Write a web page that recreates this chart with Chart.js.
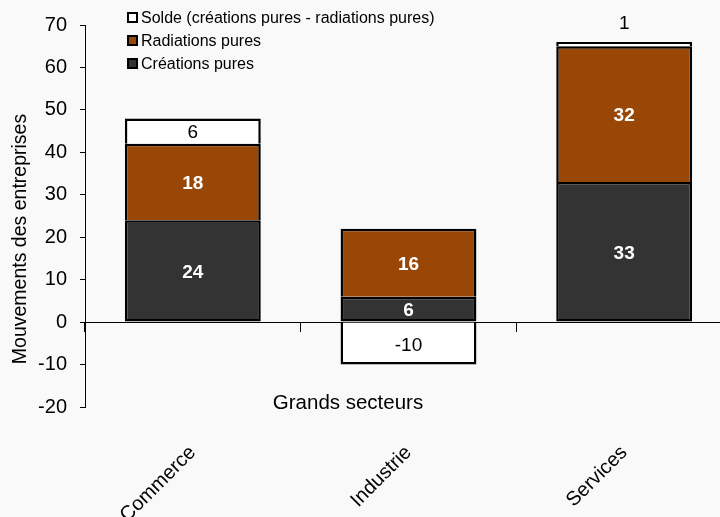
<!DOCTYPE html>
<html>
<head>
<meta charset="utf-8">
<script src="https://cdn.jsdelivr.net/npm/chart.js@4"></script>
<style>
    html, body { margin:0; padding:0; background:#f9f9f9; overflow:hidden; }
    #wrap { position:relative; width:720px; height:517px; overflow:hidden; }
    #chart { position:absolute; left:0; top:0; }
    .legend { position:absolute; left:127px; top:6px; font-family:Arial, "Liberation Sans", sans-serif; font-size:16px; color:#000; }
    .legend-row { display:flex; align-items:center; height:23px; }
    .legend-box { width:7px; height:7px; border:2px solid #000; margin-right:3px; }
</style>
</head>
<body>
<div id="wrap">
    <canvas id="chart" width="732" height="517"></canvas>
    <div class="legend" id="legend"></div>
</div>
<script>
// ── DATA ──
const sectors = ['Commerce', 'Industrie', 'Services'];
const creations = [24, 6, 33];
const radiations = [18, 16, 32];
const solde = [6, -10, 1];
const yTicks = { min: -20, max: 70, step: 10 };

const FONT = 'Arial, "Liberation Sans", sans-serif';
const colCreations = '#333333';
const colRadiations = '#994706';
const colSolde = '#ffffff';
const BW = 2.5;

// legend (reversed order, like the original)
const legendItems = [
    { label: 'Solde (créations pures - radiations pures)', color: colSolde },
    { label: 'Radiations pures', color: colRadiations },
    { label: 'Créations pures', color: colCreations }
];
document.getElementById('legend').innerHTML = legendItems.map(l =>
    `<div class="legend-row"><div class="legend-box" style="background:${l.color}"></div><span>${l.label}</span></div>`
).join('');

// value labels inside / above each segment
const valueLabels = {
    id: 'valueLabels',
    afterDatasetsDraw(chart) {
        const ctx = chart.ctx;
        ctx.save();
        ctx.textAlign = 'center';
        ctx.textBaseline = 'middle';
        chart.data.datasets.forEach((ds, i) => {
            const meta = chart.getDatasetMeta(i);
            meta.data.forEach((bar, j) => {
                const v = ds.data[j];
                const h = Math.abs(bar.base - bar.y);
                const top = Math.min(bar.y, bar.base);
                let y = (bar.y + bar.base) / 2;
                if (h < 18) y = top - 20;
                if (ds.labelBold) {
                    ctx.font = `bold 19px ${FONT}`;
                    ctx.fillStyle = '#fff';
                } else {
                    ctx.font = `19px ${FONT}`;
                    ctx.fillStyle = '#000';
                }
                ctx.fillText(String(v), bar.x, y + 2);
            });
        });
        ctx.restore();
    }
};

// axis titles
const axisTitles = {
    id: 'axisTitles',
    afterDraw(chart) {
        const ctx = chart.ctx;
        ctx.save();
        ctx.fillStyle = '#000';
        ctx.textAlign = 'center';
        ctx.textBaseline = 'middle';
        ctx.font = `20.5px ${FONT}`;
        ctx.fillText('Grands secteurs', 348, 403);
        ctx.font = `19.5px ${FONT}`;
        ctx.translate(21, 239);
        ctx.rotate(-Math.PI / 2);
        ctx.fillText('Mouvements des entreprises', 0, 0);
        ctx.restore();
    }
};

// segments share their joints: only the outer edge of each stack piece gets a border
const sideBorders = (bottom) => ctx => {
    const v = ctx.raw;
    if (bottom) return BW;
    return v < 0 ? { top: 0, bottom: BW, left: BW, right: BW } : { top: BW, bottom: 0, left: BW, right: BW };
};
const segOpts = { borderColor: '#000', borderSkipped: false, barPercentage: 0.63, categoryPercentage: 1, inflateAmount: 0 };

new Chart(document.getElementById('chart'), {
    type: 'bar',
    data: {
        labels: sectors,
        datasets: [
            { label: 'Créations pures', data: creations, backgroundColor: colCreations, labelBold: true, borderWidth: sideBorders(true), ...segOpts },
            { label: 'Radiations pures', data: radiations, backgroundColor: colRadiations, labelBold: true, borderWidth: sideBorders(false), ...segOpts },
            { label: 'Solde (créations pures - radiations pures)', data: solde, backgroundColor: colSolde, labelBold: false, borderWidth: sideBorders(false), ...segOpts }
        ]
    },
    options: {
        responsive: false,
        devicePixelRatio: 1,
        animation: false,
        layout: { padding: { top: 25, left: 0, right: 0, bottom: 0 } },
        plugins: { legend: { display: false }, tooltip: { enabled: false } },
        scales: {
            x: {
                stacked: true,
                position: { y: 0 },
                offset: true,
                ticks: { display: false },
                grid: { offset: true, drawOnChartArea: false, tickLength: 9, color: '#000', lineWidth: 1 },
                border: { display: true, color: '#000', width: 1 },
                afterFit: s => { s.height = 0; }
            },
            x2: {
                type: 'category',
                position: 'bottom',
                offset: true,
                grid: { display: false, drawTicks: false },
                border: { display: false },
                ticks: { color: '#000', font: { family: FONT, size: 20 }, minRotation: 45, maxRotation: 45, padding: 34 },
                afterFit: s => { s.height = 110; }
            },
            y: {
                stacked: true,
                min: yTicks.min,
                max: yTicks.max,
                ticks: { stepSize: yTicks.step, color: '#000', font: { family: FONT, size: 20 }, padding: 13 },
                grid: { drawOnChartArea: false, tickLength: 5, color: '#000' },
                border: { display: true, color: '#000', width: 1 },
                afterFit: s => { s.width = 85; }
            }
        }
    },
    plugins: [valueLabels, axisTitles]
});
</script>
</body>
</html>
